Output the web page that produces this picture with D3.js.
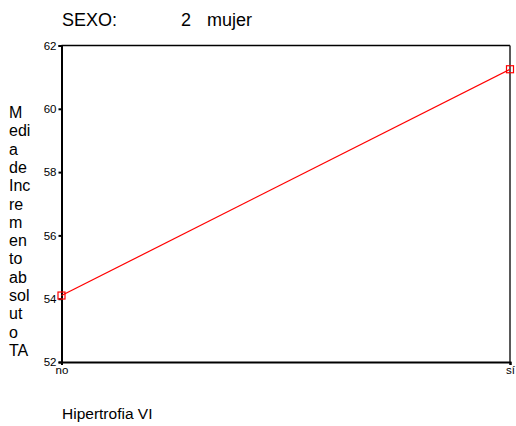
<!DOCTYPE html>
<html><head><meta charset="utf-8">
<script src="https://cdn.jsdelivr.net/npm/d3@7"></script>
<style>body{margin:0;background:#fff}svg{display:block}text{font-family:Arial,"Liberation Sans",sans-serif}</style>
</head><body>
<script>
const categories = ["no", "sí"];
const values = [54.1, 61.25];
const yTicks = [52, 54, 56, 58, 60, 62];
const yLabelLines = ["M","edi","a","de","Inc","re","m","en","to","ab","sol","ut","o","TA"];
const titleLeft = "SEXO:";
const titleRight = ["2", "mujer"];
const xTitle = "Hipertrofia VI";

const W = 516, H = 426;
const svg = d3.select("body").append("svg").attr("width", W).attr("height", H);
const L = 61.5, R = 510, T = 45.5, B = 362;
const x = d3.scalePoint().domain(categories).range([L, R]);
const y = d3.scaleLinear().domain([52, 62]).range([B, T]);

// frame
svg.append("line").attr("x1", L).attr("x2", R).attr("y1", T).attr("y2", T).attr("stroke", "#000").attr("stroke-width", 1.5);
svg.append("line").attr("x1", R).attr("x2", R).attr("y1", T).attr("y2", B).attr("stroke", "#222").attr("stroke-width", 1.5);

// axes
const yAxis = svg.append("g").attr("transform", `translate(${L},0)`)
  .call(d3.axisLeft(y).tickValues(yTicks).tickSize(3).tickPadding(2).tickFormat(d3.format("d")));
yAxis.select(".domain").attr("stroke", "#000").attr("stroke-width", 2);
yAxis.selectAll(".tick line").attr("stroke", "#000").attr("stroke-width", 2);
yAxis.selectAll("text").attr("font-size", 11.5).attr("fill", "#000").attr("font-family", "Arial, 'Liberation Sans', sans-serif");

const xAxis = svg.append("g").attr("transform", `translate(0,${B})`)
  .call(d3.axisBottom(x).tickSize(3).tickPadding(1));
xAxis.select(".domain").attr("stroke", "#000").attr("stroke-width", 2);
xAxis.selectAll(".tick line").attr("stroke", "#000").attr("stroke-width", 2);
xAxis.selectAll("text").attr("font-size", 11.5).attr("fill", "#000").attr("font-family", "Arial, 'Liberation Sans', sans-serif");

// line
const data = categories.map((c, i) => ({c, v: values[i]}));
svg.append("path").datum(data)
  .attr("d", d3.line().x(d => x(d.c)).y(d => y(d.v)))
  .attr("fill", "none").attr("stroke", "#ff0000").attr("stroke-width", 1.2);
svg.selectAll(".pt").data(data).enter().append("rect")
  .attr("x", d => x(d.c) - 3.5).attr("y", d => y(d.v) - 3.5)
  .attr("width", 7).attr("height", 7)
  .attr("fill", "none").attr("stroke", "#ff0000").attr("stroke-width", 1.2);

// title
svg.append("text").attr("x", 62).attr("y", 26).attr("font-size", 18).text(titleLeft);
svg.append("text").attr("x", 181).attr("y", 26).attr("font-size", 18).text(titleRight[0]);
svg.append("text").attr("x", 207).attr("y", 26).attr("font-size", 18).text(titleRight[1]);

// y title
svg.append("g").selectAll("text").data(yLabelLines).enter().append("text")
  .attr("x", 9).attr("y", (d, i) => 118 + i * 18.3).attr("font-size", 16).text(d => d);

// x title
svg.append("text").attr("x", 62).attr("y", 419).attr("font-size", 15.5).text(xTitle);
</script>
</body></html>
